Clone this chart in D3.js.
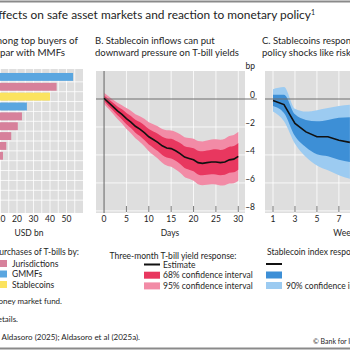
<!DOCTYPE html>
<html>
<head>
<meta charset="utf-8">
<script src="https://cdn.jsdelivr.net/npm/d3@7"></script>
<style>
  body { margin: 0; background: #fff; }
  svg { display: block; font-family: Lato, "Open Sans", sans-serif; }
</style>
</head>
<body>
<div id="chart"></div>
<script>
// Panel A: top T-bill buyers (USD bn)
const buyerRanks = ["1", "2", "3", "4", "5", "6", "7", "8", "9", "10", "11", "12", "13", "14"];
const buyerTypes = ["GMMFs", "Jurisdictions", "Stablecoins", "GMMFs", "Jurisdictions", "Jurisdictions", "Jurisdictions",
  "Jurisdictions", "Jurisdictions", "Jurisdictions", "GMMFs", "Jurisdictions", "Jurisdictions", "Jurisdictions"];
const buyerPurchases = [54, 44, 40, 26, 23, 20.5, 16.5, 13.5, 11.5, 9.5, 9, 8.5, 8, 7.5];
const buyerTicks = [10, 20, 30, 40, 50];
const buyerLegend = ["Jurisdictions", "GMMFs", "Stablecoins"];

// Panel B: three-month T-bill yield response (bp)
const days = [0, 1, 2, 3, 4, 5, 6, 7, 8, 9, 10, 11, 12, 13, 14, 15, 16, 17, 18, 19, 20, 21, 22, 23, 24, 25, 26, 27, 28, 29, 30];
const yieldEstimate = [0.05, -0.25, -0.55, -0.85, -1.1, -1.4, -1.65, -1.95, -2.15, -2.4, -2.7, -2.9, -3.1, -3.35, -3.5, -3.55,
  -3.7, -3.9, -4.15, -4.25, -4.35, -4.55, -4.6, -4.55, -4.5, -4.5, -4.55, -4.5, -4.35, -4.3, -4.1];
const yield68Hi = [0.25, 0, -0.27, -0.53, -0.74, -1, -1.22, -1.49, -1.65, -1.87, -2.14, -2.32, -2.48, -2.7, -2.82, -2.85,
  -2.98, -3.15, -3.37, -3.45, -3.53, -3.7, -3.74, -3.68, -3.62, -3.6, -3.65, -3.58, -3.42, -3.36, -3.15];
const yield68Lo = [-0.15, -0.5, -0.83, -1.17, -1.46, -1.8, -2.08, -2.41, -2.65, -2.93, -3.26, -3.48, -3.72, -4, -4.18, -4.25,
  -4.42, -4.65, -4.93, -5.05, -5.17, -5.4, -5.46, -5.42, -5.38, -5.4, -5.45, -5.42, -5.28, -5.24, -5.05];
const yield95Hi = [0.45, 0.2, -0.05, -0.27, -0.44, -0.65, -0.85, -1.09, -1.23, -1.42, -1.66, -1.8, -1.95, -2.15, -2.24, -2.25,
  -2.36, -2.52, -2.73, -2.79, -2.85, -3.01, -3.04, -2.97, -2.9, -2.88, -2.91, -2.84, -2.65, -2.58, -2.35];
const yield95Lo = [-0.35, -0.7, -1.05, -1.43, -1.76, -2.15, -2.45, -2.81, -3.07, -3.38, -3.74, -4, -4.25, -4.55, -4.76, -4.85,
  -5.04, -5.28, -5.57, -5.71, -5.85, -6.09, -6.16, -6.13, -6.1, -6.12, -6.19, -6.16, -6.05, -6.02, -5.85];
const dayTicks = [0, 5, 10, 15, 20, 25, 30];
const bpTicks = [0, -2, -4, -6, -8];

// Panel C: stablecoin index response to policy shocks
const weeks = [1, 2, 3, 4, 5, 6, 7, 8];
const indexEstimate = [-0.1, -0.4, -1.75, -2.35, -2.7, -2.7, -2.95, -3.1];
const index68Hi = [0.3, 0.3, -1.1, -1.5, -1.6, -1.5, -1.35, -1.3];
const index68Lo = [-0.5, -1.0, -2.65, -3.45, -3.95, -4.1, -4.35, -4.5];
const index90Hi = [0.7, 0.85, -0.7, -0.9, -0.8, -0.65, -0.5, -0.42];
const index90Lo = [-0.9, -1.6, -3.2, -4.15, -4.75, -5.1, -5.45, -5.7];
const weekTicks = [1, 3, 5, 7, 9, 11, 13];

const typeColor = { Jurisdictions: "#d7819b", GMMFs: "#5aa6e0", Stablecoins: "#fbe35f" };
const bg = "#dedede", txt = "#1e1e1e", axisGrey = "#6e6e6e";

const svg = d3.select("#chart").append("svg").attr("width", 350).attr("height", 350);
svg.append("rect").attr("width", 350).attr("height", 350).attr("fill", "#fff");

// frame rules
svg.append("line").attr("x1", 0).attr("x2", 350).attr("y1", 1.5).attr("y2", 1.5).attr("stroke", "#8a8a8a").attr("stroke-width", 2);
svg.append("line").attr("x1", 0).attr("x2", 350).attr("y1", 348.5).attr("y2", 348.5).attr("stroke", "#8a8a8a").attr("stroke-width", 2);

// main title (left part cropped off)
const title = svg.append("text").attr("x", 315).attr("y", 19).attr("text-anchor", "end")
  .attr("font-size", 11.9).attr("fill", txt);
title.append("tspan").text("Stablecoin effects on safe asset markets and reaction to monetary policy");
title.append("tspan").attr("font-size", 7).attr("dy", -4).text("1");

function panelTitle(x, y, text, anchor, size) {
  svg.append("text").attr("x", x).attr("y", y).attr("text-anchor", anchor)
    .attr("font-size", size || 9.5).attr("fill", txt).text(text);
}

// ---------- Panel A ----------
panelTitle(78, 44, "A. Stablecoins among top buyers of", "end", 9.8);
panelTitle(65, 56, "T-bills, on par with MMFs", "end", 9.8);

const xA = d3.scaleLinear().domain([0, 60]).range([-16, 83]);
const yA = d3.scaleBand().domain(buyerRanks).range([71, 211]).padding(0.2);
const gA = svg.append("g");
gA.append("rect").attr("x", -30).attr("y", 69).attr("width", 113).attr("height", 144).attr("fill", bg);
gA.selectAll("line.v").data(d3.range(5, 60, 5)).enter().append("line")
  .attr("x1", d => xA(d)).attr("x2", d => xA(d)).attr("y1", 69).attr("y2", 213)
  .attr("stroke", "#fff").attr("stroke-width", 0.8);
gA.selectAll("line.h").data(buyerRanks.slice(1)).enter().append("line")
  .attr("x1", -30).attr("x2", 83)
  .attr("y1", d => yA(d) - yA.step() * yA.paddingInner() / 2).attr("y2", d => yA(d) - yA.step() * yA.paddingInner() / 2)
  .attr("stroke", "#fff").attr("stroke-width", 0.8);
gA.selectAll("rect.bar").data(buyerRanks).enter().append("rect")
  .attr("x", xA(0)).attr("y", d => yA(d))
  .attr("width", (d, i) => xA(buyerPurchases[i]) - xA(0)).attr("height", yA.bandwidth())
  .attr("fill", (d, i) => typeColor[buyerTypes[i]]);
gA.selectAll("text.tick").data(buyerTicks).enter().append("text")
  .attr("x", d => xA(d)).attr("y", 222).attr("text-anchor", "middle")
  .attr("font-size", 8.5).attr("fill", txt).text(d => d);
svg.append("text").attr("x", 29).attr("y", 236).attr("text-anchor", "middle")
  .attr("font-size", 8.5).attr("fill", txt).text("USD bn");

svg.append("text").attr("x", 79).attr("y", 255).attr("text-anchor", "end")
  .attr("font-size", 8.5).attr("fill", txt).text("Purchases of T-bills by:");
buyerLegend.forEach((k, i) => {
  svg.append("rect").attr("x", -3).attr("y", 260 + i * 10.5).attr("width", 10).attr("height", 7).attr("fill", typeColor[k]);
  svg.append("text").attr("x", 12).attr("y", 266.5 + i * 10.5).attr("font-size", 8.5).attr("fill", txt).text(k);
});

// ---------- shared y scale for B and C ----------
const yBC = d3.scaleLinear().domain([-8.15, 2]).range([213, 71]);

function ciPanel(g, x, xs, est, hi68, lo68, hiOut, loOut, cols, left, right, vgrid, ticks) {
  g.append("rect").attr("x", left).attr("y", 71).attr("width", right - left).attr("height", 142).attr("fill", bg);
  g.selectAll("line.h").data(bpTicks.filter(v => v !== 0)).enter().append("line")
    .attr("x1", left).attr("x2", right).attr("y1", d => yBC(d)).attr("y2", d => yBC(d))
    .attr("stroke", "#fff").attr("stroke-width", 0.8);
  g.selectAll("line.v").data(vgrid).enter().append("line")
    .attr("x1", d => x(d)).attr("x2", d => x(d)).attr("y1", 71).attr("y2", 213)
    .attr("stroke", "#fff").attr("stroke-width", 0.8);
  const area = (hi, lo) => d3.area().x((d, i) => x(xs[i])).y0((d, i) => yBC(lo[i])).y1((d, i) => yBC(hi[i]))
    .curve(d3.curveMonotoneX)(xs);
  g.append("path").attr("d", area(hiOut, loOut)).attr("fill", cols[1]);
  g.append("path").attr("d", area(hi68, lo68)).attr("fill", cols[0]);
  g.selectAll("line.t").data(ticks).enter().append("line")
    .attr("x1", d => x(d)).attr("x2", d => x(d)).attr("y1", 206).attr("y2", 212)
    .attr("stroke", axisGrey).attr("stroke-width", 0.9);
  g.selectAll("text.tick").data(ticks).enter().append("text")
    .attr("x", d => x(d)).attr("y", 222).attr("text-anchor", "middle")
    .attr("font-size", 8.5).attr("fill", txt).text(d => d);
}

function estimateLine(g, x, xs, est) {
  g.append("path")
    .attr("d", d3.line().x((d, i) => x(xs[i])).y((d, i) => yBC(est[i]))(xs))
    .attr("fill", "none").attr("stroke", "#111").attr("stroke-width", 1.6);
}

// ---------- Panel B ----------
panelTitle(95, 44, "B. Stablecoin inflows can put", "start");
panelTitle(95, 56, "downward pressure on T-bill yields", "start");
const xB = d3.scaleLinear().domain([-1.8, 31.5]).range([96, 245]);
const gB = svg.append("g");
ciPanel(gB, xB, days, yieldEstimate, yield68Hi, yield68Lo, yield95Hi, yield95Lo,
  ["#e8375f", "#f28ba6"], 96, 245, [5, 10, 15, 20, 25, 30], dayTicks.filter(d => d > 0));
gB.append("line").attr("x1", xB(0)).attr("x2", xB(0)).attr("y1", 71).attr("y2", 213)
  .attr("stroke", axisGrey).attr("stroke-width", 1.1);
gB.append("line").attr("x1", 96).attr("x2", 257).attr("y1", yBC(0)).attr("y2", yBC(0))
  .attr("stroke", axisGrey).attr("stroke-width", 1.1);
estimateLine(gB, xB, days, yieldEstimate);
gB.append("text").attr("x", xB(0)).attr("y", 222).attr("text-anchor", "middle")
  .attr("font-size", 8.5).attr("fill", txt).text("0");
svg.selectAll("text.ylab").data(bpTicks).enter().append("text")
  .attr("x", 255).attr("y", d => yBC(d) - 1).attr("text-anchor", "end")
  .attr("font-size", 8.5).attr("fill", txt).text(d => d === 0 ? "0" : "\u2013" + Math.abs(d));
svg.append("text").attr("x", 255).attr("y", 69).attr("text-anchor", "end")
  .attr("font-size", 8.5).attr("fill", txt).text("bp");
svg.append("text").attr("x", 170).attr("y", 236).attr("text-anchor", "middle")
  .attr("font-size", 8.5).attr("fill", txt).text("Days");

svg.append("text").attr("x", 173).attr("y", 258.5).attr("text-anchor", "middle")
  .attr("font-size", 8.5).attr("fill", txt).text("Three-month T-bill yield response:");
const legB = [["Estimate", "line", "#111"], ["68% confidence interval", "box", "#e8375f"], ["95% confidence interval", "box", "#f28ba6"]];
legB.forEach((d, i) => {
  const cy = 264.5 + i * 10.7;
  if (d[1] === "line") svg.append("rect").attr("x", 144).attr("y", cy - 1).attr("width", 16).attr("height", 2).attr("fill", d[2]);
  else svg.append("rect").attr("x", 144).attr("y", cy - 3.5).attr("width", 16).attr("height", 7).attr("fill", d[2]);
  svg.append("text").attr("x", 163).attr("y", cy + 3).attr("font-size", 8.5).attr("fill", txt).text(d[0]);
});

// ---------- Panel C ----------
panelTitle(262, 44, "C. Stablecoins respond to monetary", "start");
panelTitle(262, 56, "policy shocks like risky assets", "start");
const xC = d3.scaleLinear().domain([0.27, 15.3]).range([265, 430]);
const gC = svg.append("g");
ciPanel(gC, xC, weeks, indexEstimate, index68Hi, index68Lo, index90Hi, index90Lo,
  ["#3d8fd6", "#9ccbf1"], 265, 430, weekTicks, weekTicks);
gC.append("line").attr("x1", 265).attr("x2", 430).attr("y1", yBC(0)).attr("y2", yBC(0))
  .attr("stroke", axisGrey).attr("stroke-width", 1.1);
estimateLine(gC, xC, weeks, indexEstimate);
svg.append("text").attr("x", 346).attr("y", 236).attr("text-anchor", "middle")
  .attr("font-size", 8.5).attr("fill", txt).text("Weeks");

svg.append("text").attr("x", 267).attr("y", 255).attr("font-size", 8.5).attr("fill", txt)
  .text("Stablecoin index response:");
svg.append("rect").attr("x", 266).attr("y", 263).attr("width", 16).attr("height", 2).attr("fill", "#111");
svg.append("rect").attr("x", 266).attr("y", 271.5).attr("width", 16).attr("height", 7).attr("fill", "#3d8fd6");
svg.append("rect").attr("x", 266).attr("y", 282).attr("width", 16).attr("height", 7).attr("fill", "#9ccbf1");
svg.append("text").attr("x", 286).attr("y", 288.5).attr("font-size", 8.5).attr("fill", txt).text("90% confidence interval");

// notes
svg.append("text").attr("x", 62).attr("y", 304).attr("text-anchor", "end")
  .attr("font-size", 8).attr("fill", txt).text("GMMF = government money market fund.");
svg.append("text").attr("x", 18).attr("y", 322).attr("text-anchor", "end")
  .attr("font-size", 8).attr("fill", txt).text("\u00b9 See technical annex for details.");
svg.append("text").attr("x", 140).attr("y", 340).attr("text-anchor", "end")
  .attr("font-size", 8).attr("fill", txt).text("Sources: Ahmed and Aldasoro (2025); Aldasoro et al (2025a).");
svg.append("text").attr("x", 313).attr("y", 344).attr("font-size", 7).attr("fill", txt)
  .text("\u00a9 Bank for International Settlements");
</script>
</body>
</html>
